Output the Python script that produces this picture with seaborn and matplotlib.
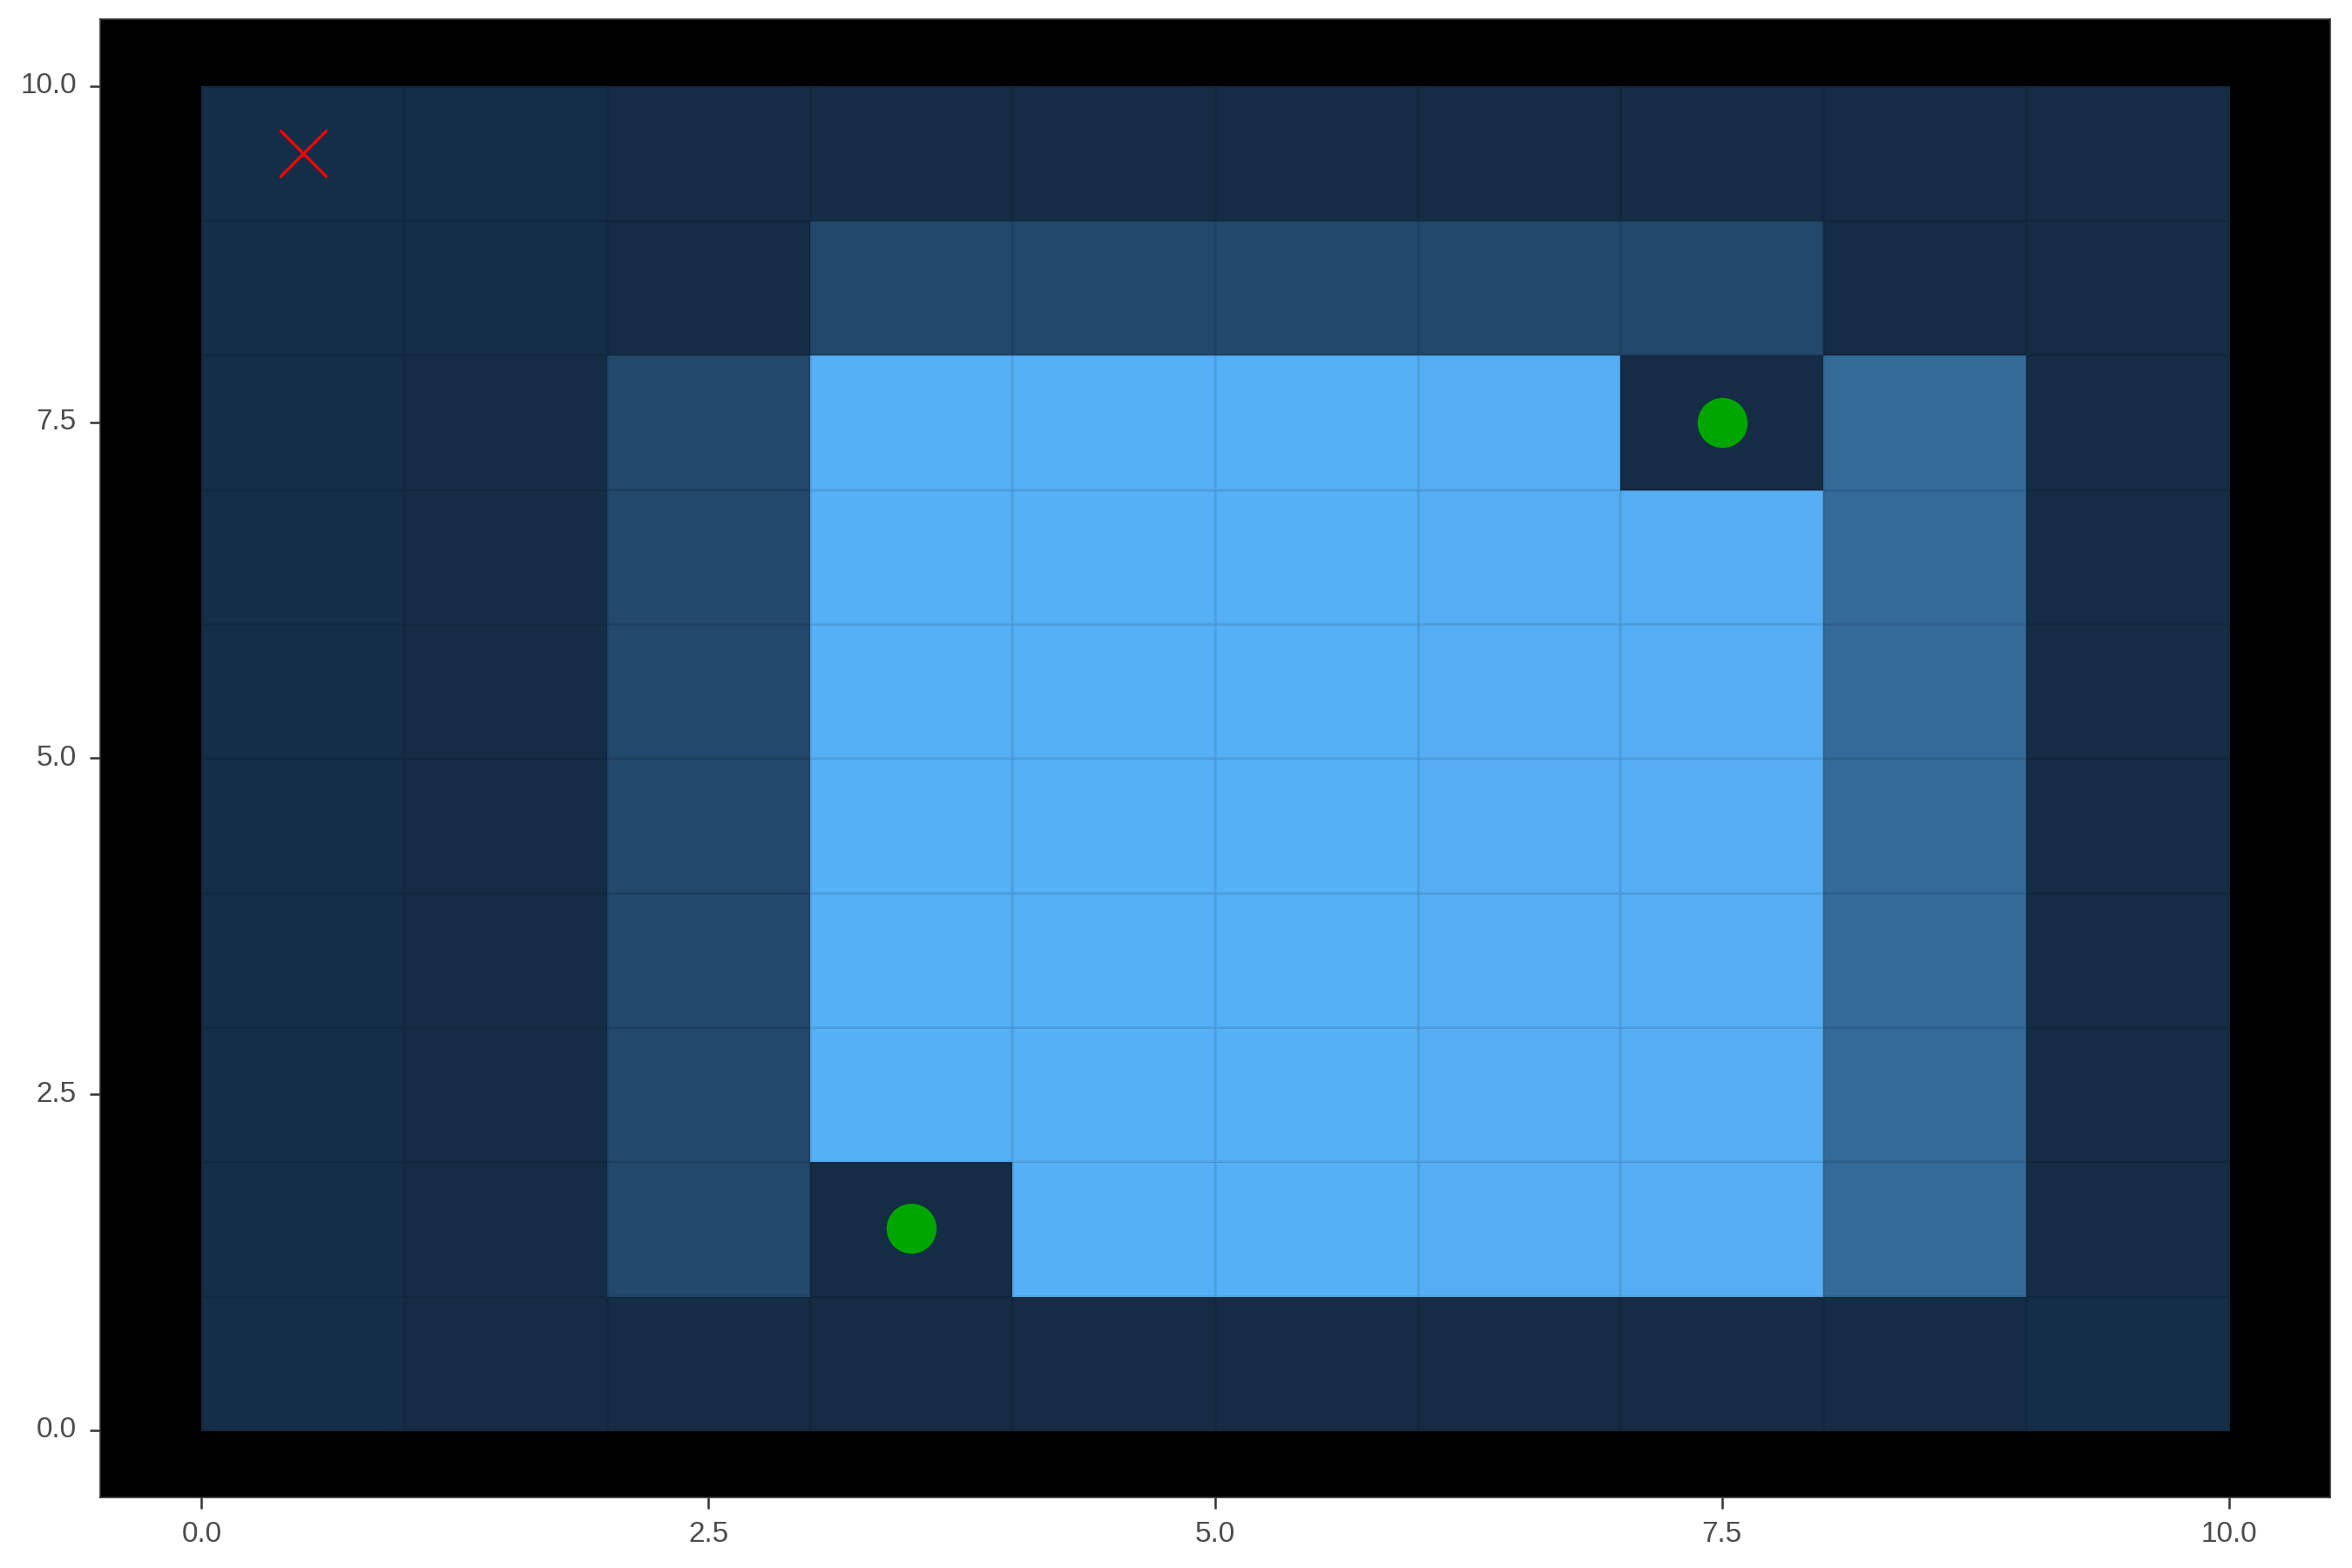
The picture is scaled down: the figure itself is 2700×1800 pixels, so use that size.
import numpy as np
import pandas as pd
import matplotlib
matplotlib.use("Agg")
import matplotlib.pyplot as plt
from matplotlib.colors import LinearSegmentedColormap
import seaborn as sns

# cell values, rows from y=0 (bottom) to y=9 (top), columns x=0..9
row_0 = [0.02, 0.015, 0.01, 0.01, 0.01, 0.01, 0.01, 0.01, 0.01, 0.02]
row_1 = [0.02, 0.015, 0.22, 0.01, 0.99, 0.99, 0.98, 0.98, 0.47, 0.01]
row_2 = [0.02, 0.015, 0.22, 0.99, 0.99, 0.99, 0.98, 0.98, 0.47, 0.01]
row_3 = [0.02, 0.015, 0.22, 0.99, 0.99, 0.99, 0.98, 0.98, 0.47, 0.01]
row_4 = [0.02, 0.015, 0.22, 0.99, 0.99, 0.99, 0.98, 0.98, 0.47, 0.01]
row_5 = [0.02, 0.015, 0.22, 0.99, 0.99, 0.99, 0.98, 0.98, 0.47, 0.01]
row_6 = [0.02, 0.015, 0.22, 0.99, 0.99, 0.99, 0.98, 0.98, 0.47, 0.01]
row_7 = [0.02, 0.015, 0.22, 0.99, 0.99, 0.99, 0.98, 0.01, 0.47, 0.01]
row_8 = [0.02, 0.02, 0.01, 0.22, 0.22, 0.22, 0.22, 0.22, 0.01, 0.015]
row_9 = [0.02, 0.02, 0.015, 0.015, 0.015, 0.015, 0.015, 0.01, 0.01, 0.015]

goal_x = [3.5, 7.5]
goal_y = [1.5, 7.5]
start_x = [0.5]
start_y = [9.5]

ticks = [0.0, 2.5, 5.0, 7.5, 10.0]
tick_labels = ["0.0", "2.5", "5.0", "7.5", "10.0"]

grid = pd.DataFrame([row_0, row_1, row_2, row_3, row_4,
                     row_5, row_6, row_7, row_8, row_9])

cmap = LinearSegmentedColormap.from_list("gg", ["#132B43", "#56B1F7"])

sns.set_style("white")
plt.rcParams['font.family'] = ['Liberation Sans', 'DejaVu Sans']

fig = plt.figure(figsize=(9, 6), dpi=300)
ax = fig.add_axes([0.0426, 0.045, 0.9481, 0.943])
ax.set_facecolor("black")

sns.heatmap(grid, cmap=cmap, vmin=0, vmax=1, cbar=False, ax=ax,
            linewidths=0.3, linecolor=(0, 0, 0, 0.07), square=False)

sns.scatterplot(x=goal_x, y=goal_y, ax=ax, color="#00a600", s=190,
                linewidth=0, zorder=5)
ax.plot(start_x, start_y, marker="x", linestyle="none", color="#ff0000",
        markersize=13, markeredgewidth=0.8, zorder=5)

ax.set_xlim(-0.5, 10.5)
ax.set_ylim(-0.5, 10.5)
ax.set_xticks(ticks)
ax.set_xticklabels(tick_labels, rotation=0)
ax.set_yticks(ticks)
ax.set_yticklabels(tick_labels, rotation=0)
ax.set_xlabel("")
ax.set_ylabel("")
ax.tick_params(axis="both", colors="#333333", labelcolor="#4d4d4d",
               labelsize=8, length=3, width=0.6, direction="out",
               bottom=True, left=True)
for side in ["top", "right", "bottom", "left"]:
    ax.spines[side].set_visible(True)
    ax.spines[side].set_color("#333333")
    ax.spines[side].set_linewidth(0.4)

fig.savefig("out.png", dpi=300, facecolor="white")
